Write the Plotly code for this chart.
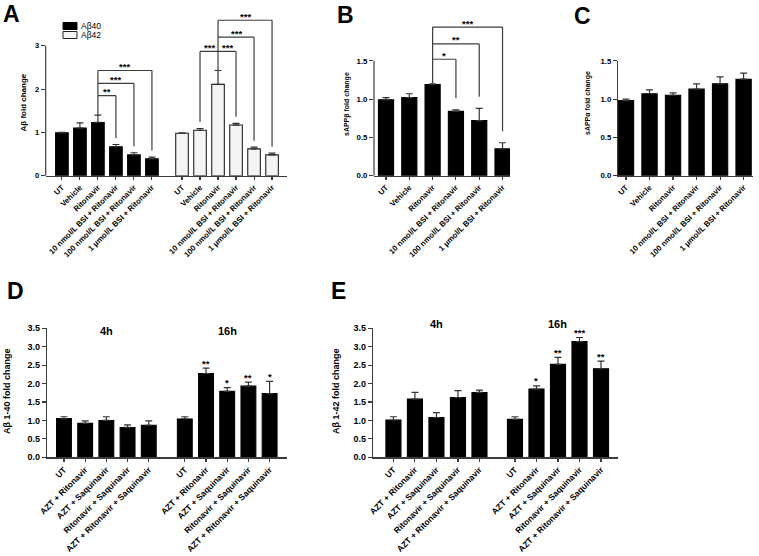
import plotly.graph_objects as go

W, H = 759, 556
OFF = 0  # body margin removed through post_script below

# ---------------- data ----------------
a_labels = ["UT", "Vehicle", "Ritonavir", "10 nmol/L BSI + Ritonavir",
            "100 nmol/L BSI + Ritonavir", "1 μmol/L BSI + Ritonavir"]
a_ab40 = [0.99, 1.10, 1.23, 0.67, 0.48, 0.39]
a_ab40_err = [0.01, 0.12, 0.17, 0.05, 0.05, 0.04]
a_ab42 = [0.98, 1.05, 2.11, 1.17, 0.62, 0.48]
a_ab42_err = [0.01, 0.04, 0.32, 0.04, 0.04, 0.04]
a_ab40_sig = [(2, 3, "**"), (2, 4, "***"), (2, 5, "***")]
a_ab42_sig = [(2, 1, "***"), (2, 3, "***"), (2, 4, "***"), (2, 5, "***")]
a_y_ticks = [0, 1, 2, 3]

b_labels = a_labels
b_values = [0.99, 1.02, 1.19, 0.84, 0.72, 0.35]
b_err = [0.03, 0.05, 0.01, 0.02, 0.16, 0.08]
b_sig = [(2, 3, "*"), (2, 4, "**"), (2, 5, "***")]

c_labels = a_labels
c_values = [0.98, 1.07, 1.05, 1.13, 1.20, 1.26]
c_err = [0.02, 0.05, 0.03, 0.07, 0.09, 0.08]
bc_y_ticks = [0.0, 0.5, 1.0, 1.5]

d_labels = ["UT", "AZT + Ritonavir", "AZT + Saquinavir",
            "Ritonavir + Saquinavir", "AZT + Ritonavir + Saquinavir"]
d_4h = [1.05, 0.92, 1.00, 0.81, 0.87]
d_4h_err = [0.05, 0.07, 0.10, 0.07, 0.12]
d_16h = [1.04, 2.27, 1.79, 1.93, 1.73]
d_16h_err = [0.06, 0.15, 0.10, 0.11, 0.33]
d_16h_sig = ["", "**", "*", "**", "*"]

e_labels = d_labels
e_4h = [1.01, 1.58, 1.08, 1.62, 1.76]
e_4h_err = [0.09, 0.18, 0.13, 0.19, 0.06]
e_16h = [1.03, 1.85, 2.52, 3.14, 2.40]
e_16h_err = [0.07, 0.09, 0.19, 0.11, 0.21]
e_16h_sig = ["", "*", "**", "***", "**"]
de_y_ticks = [0.0, 0.5, 1.0, 1.5, 2.0, 2.5, 3.0, 3.5]
time_labels = ["4h", "16h"]

# ---------------- layout helpers ----------------
FONT = "Arial, Liberation Sans, Helvetica, sans-serif"
AXC = "#3c3c3c"


def px(p):
    return (p - OFF) / W


def py(p):
    return 1 - (p - OFF) / H


def dom_x(p0, p1):
    return [px(p0), px(p1)]


def dom_y(ptop, pbot):
    return [py(pbot), py(ptop)]


fig = go.Figure()
shapes = []
annos = []


def add_bars(xa, ya, xs, vals, errs, bw, fill, edge="black"):
    fig.add_trace(go.Bar(
        x=xs, y=vals, width=bw, xaxis=xa, yaxis=ya, showlegend=False,
        marker=dict(color=fill, line=dict(color=edge, width=1.1)),
        error_y=dict(type="data", array=errs, arrayminus=[0] * len(errs),
                     symmetric=False, color="#333333", thickness=1.2, width=3.5),
        hoverinfo="skip"))


def add_brackets(xa, ya, xs, tops, comps, levels, gap, star_size=9.5):
    hub = comps[0][0]
    shapes.append(dict(type="line", xref=xa, yref=ya, x0=xs[hub], x1=xs[hub],
                       y0=tops[hub], y1=max(levels),
                       line=dict(color=AXC, width=1.2)))
    for (h, t, lab), lev in zip(comps, levels):
        shapes.append(dict(type="line", xref=xa, yref=ya, x0=xs[h], x1=xs[t],
                           y0=lev, y1=lev, line=dict(color=AXC, width=1.2)))
        shapes.append(dict(type="line", xref=xa, yref=ya, x0=xs[t], x1=xs[t],
                           y0=lev, y1=tops[t] + gap, line=dict(color=AXC, width=1.2)))
        annos.append(dict(xref=xa, yref=ya, x=(xs[h] + xs[t]) / 2, y=lev,
                          text=lab, showarrow=False, yanchor="middle", yshift=4,
                          font=dict(family=FONT, size=star_size, color="black",
                                    weight="bold")))


def axis_common(dom, rng, tickvals, ticktext, tsize, anchor, angle=None, ticklen=3,
                showline=True):
    d = dict(domain=dom, range=rng, tickvals=tickvals, ticktext=ticktext,
             anchor=anchor, showgrid=False, zeroline=False, showline=showline,
             linecolor=AXC, linewidth=1.2, ticks="outside", ticklen=ticklen,
             tickwidth=1.1, tickcolor=AXC, fixedrange=True, automargin=False,
             tickfont=dict(family=FONT, size=tsize, color="black", weight="bold"))
    if angle is not None:
        d["tickangle"] = angle
    return d


# ---------------- Panel A ----------------
a_black_x = [i for i in range(len(a_labels))]
a_white_x = [6.67 + i for i in range(len(a_labels))]
add_bars("x", "y", a_black_x, a_ab40, a_ab40_err, 0.7, "black")
add_bars("x", "y", a_white_x, a_ab42, a_ab42_err, 0.7, "#f4f4f4", edge="#222222")
a_tops40 = [v + e for v, e in zip(a_ab40, a_ab40_err)]
a_tops42 = [v + e for v, e in zip(a_ab42, a_ab42_err)]
add_brackets("x", "y", a_black_x, a_tops40, a_ab40_sig, [1.85, 2.13, 2.43], 0.15)
add_brackets("x", "y", a_white_x, a_tops42, a_ab42_sig, [2.87, 2.87, 3.20, 3.59], 0.15)

fig.update_layout(
    xaxis=axis_common(dom_x(45.7, 287), [-0.9, 12.5], a_black_x + a_white_x,
                      a_labels + a_labels, 7.8, "y", angle=-45),
    yaxis=axis_common(dom_y(10, 175.7), [0, (175.7 - 10) / 43.3], a_y_ticks,
                      [str(v) for v in a_y_ticks], 7.5, "x", ticklen=4, showline=False),
)
shapes.append(dict(type="line", xref="paper", yref="y", x0=px(45.7), x1=px(45.7),
                   y0=0, y1=a_y_ticks[-1], line=dict(color=AXC, width=1.2)))

# legend for A
shapes.append(dict(type="rect", xref="paper", yref="paper", x0=px(63), x1=px(77),
                   y0=py(29.5), y1=py(22.5), fillcolor="black", line=dict(color="black", width=1)))
shapes.append(dict(type="rect", xref="paper", yref="paper", x0=px(63), x1=px(77),
                   y0=py(38.5), y1=py(31.5), fillcolor="#f4f4f4", line=dict(color="#222", width=1)))
annos.append(dict(xref="paper", yref="paper", x=px(78.5), y=py(26), text="Aβ40",
                  xanchor="left", yanchor="middle", showarrow=False,
                  font=dict(family=FONT, size=8.5, color="black")))
annos.append(dict(xref="paper", yref="paper", x=px(78.5), y=py(35), text="Aβ42",
                  xanchor="left", yanchor="middle", showarrow=False,
                  font=dict(family=FONT, size=8.5, color="black")))

# ---------------- Panel B ----------------
b_x = list(range(len(b_labels)))
add_bars("x2", "y2", b_x, b_values, b_err, 0.65, "black")
b_tops = [v + e for v, e in zip(b_values, b_err)]
add_brackets("x2", "y2", b_x, b_tops, b_sig, [1.52, 1.72, 1.94], 0.15)
fig.update_layout(
    xaxis2=axis_common(dom_x(374, 510), [-0.515, 5.32], b_x, b_labels, 7.8, "y2", angle=-45),
    yaxis2=axis_common(dom_y(10, 175.7), [0, (175.7 - 10) / 76.6], bc_y_ticks,
                       [f"{v:.1f}" for v in bc_y_ticks], 7.8, "x2", ticklen=4, showline=False),
)
shapes.append(dict(type="line", xref="paper", yref="y2", x0=px(374), x1=px(374),
                   y0=0, y1=bc_y_ticks[-1], line=dict(color=AXC, width=1.2)))

# ---------------- Panel C ----------------
c_x = list(range(len(c_labels)))
add_bars("x3", "y3", c_x, c_values, c_err, 0.65, "black")
fig.update_layout(
    xaxis3=axis_common(dom_x(618, 753), [-0.34, 5.40], c_x, c_labels, 7.8, "y3", angle=-45),
    yaxis3=axis_common(dom_y(175.7 - 1.5 * 76.6, 175.7), [0, 1.5], bc_y_ticks,
                       [f"{v:.1f}" for v in bc_y_ticks], 7.8, "x3", ticklen=4),
)

# ---------------- Panel D ----------------
g2 = 5.7
d_x1 = list(range(len(d_labels)))
d_x2 = [g2 + i for i in range(len(d_labels))]
add_bars("x4", "y4", d_x1, d_4h, d_4h_err, 0.7, "black")
add_bars("x4", "y4", d_x2, d_16h, d_16h_err, 0.7, "black")
fig.update_layout(
    xaxis4=axis_common(dom_x(47, 287), [-0.8, 10.52], d_x1 + d_x2,
                       d_labels + d_labels, 8.5, "y4", angle=-45),
    yaxis4=axis_common(dom_y(328.3, 457.3), [0, 3.5], de_y_ticks,
                       [f"{v:.1f}" for v in de_y_ticks], 9, "x4", ticklen=4),
)
for xv, v, e, s in zip(d_x2, d_16h, d_16h_err, d_16h_sig):
    if s:
        annos.append(dict(xref="x4", yref="y4", x=xv, y=v + e, text=s, showarrow=False,
                          yanchor="middle", yshift=5,
                          font=dict(family=FONT, size=9.5, color="black", weight="bold")))
for grp, lab in zip([d_x1, d_x2], time_labels):
    annos.append(dict(xref="x4", yref="paper", x=sum(grp) / len(grp), y=py(331),
                      text=lab, showarrow=False, yanchor="middle",
                      font=dict(family=FONT, size=11, color="black", weight="bold")))

# ---------------- Panel E ----------------
e_x1 = list(range(len(e_labels)))
e_x2 = [g2 - 0.05 + i for i in range(len(e_labels))]
add_bars("x5", "y5", e_x1, e_4h, e_4h_err, 0.7, "black")
add_bars("x5", "y5", e_x2, e_16h, e_16h_err, 0.7, "black")
fig.update_layout(
    xaxis5=axis_common(dom_x(373, 618), [-0.95, 10.44], e_x1 + e_x2,
                       e_labels + e_labels, 8.5, "y5", angle=-45),
    yaxis5=axis_common(dom_y(328.3, 457.3), [0, 3.5], de_y_ticks,
                       [f"{v:.1f}" for v in de_y_ticks], 9, "x5", ticklen=4),
)
for xv, v, e, s in zip(e_x2, e_16h, e_16h_err, e_16h_sig):
    if s:
        annos.append(dict(xref="x5", yref="y5", x=xv, y=v + e, text=s, showarrow=False,
                          yanchor="middle", yshift=5,
                          font=dict(family=FONT, size=9.5, color="black", weight="bold")))
for grp, lab in zip([e_x1, e_x2], time_labels):
    annos.append(dict(xref="x5", yref="paper", x=sum(grp) / len(grp), y=py(323.5),
                      text=lab, showarrow=False, yanchor="middle",
                      font=dict(family=FONT, size=11, color="black", weight="bold")))

# ---------------- titles & panel letters ----------------
ytitles = [("Aβ fold change", 23.5, 103, 8),
           ("sAPPβ fold change", 347, 104, 7),
           ("sAPPα fold change", 588, 103, 7),
           ("Aβ 1-40 fold change", 7, 391, 9),
           ("Aβ 1-42 fold change", 336, 391, 9)]
for t, x, y, s in ytitles:
    annos.append(dict(xref="paper", yref="paper", x=px(x), y=py(y), text=t,
                      textangle=-90, showarrow=False, xanchor="center", yanchor="middle",
                      font=dict(family=FONT, size=s, color="black", weight="bold")))

letters = [("A", 11, 14), ("B", 345, 15), ("C", 582, 16), ("D", 15, 291), ("E", 338, 291)]
for t, x, y in letters:
    annos.append(dict(xref="paper", yref="paper", x=px(x), y=py(y), text=t,
                      showarrow=False, xanchor="center", yanchor="middle",
                      font=dict(family=FONT, size=23, color="black", weight="bold")))

fig.update_layout(
    width=W, height=H, margin=dict(l=0, r=0, t=0, b=0),
    paper_bgcolor="white", plot_bgcolor="white",
    barmode="overlay", showlegend=False, hovermode=False,
    shapes=shapes, annotations=annos,
)

fig.write_html("out.html", config={"displayModeBar": False, "staticPlot": True},
               post_script="document.body.style.margin='0';document.body.style.overflow='hidden';")
